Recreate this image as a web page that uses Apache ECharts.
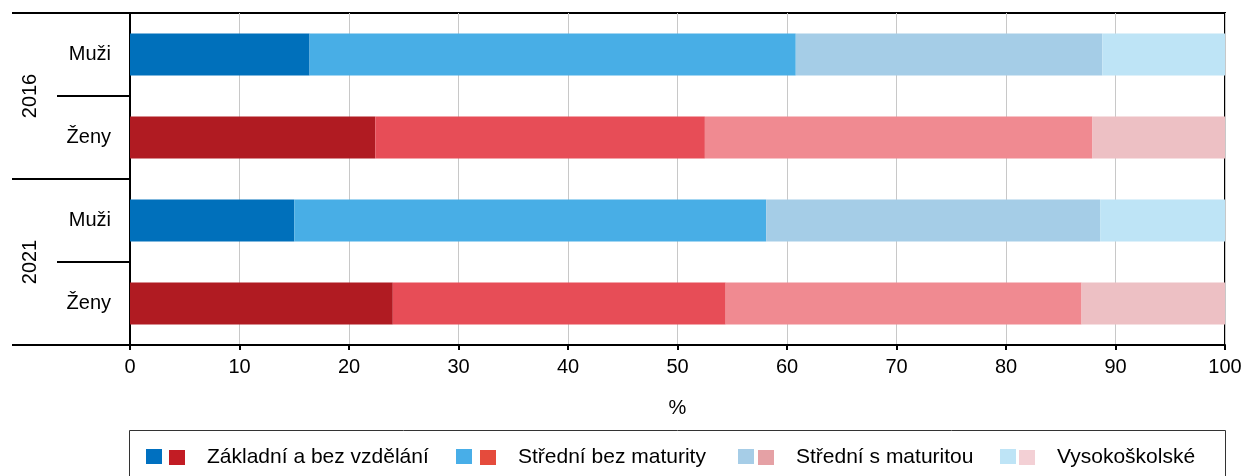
<!DOCTYPE html>
<html>
<head>
<meta charset="utf-8">
<script src="https://cdn.jsdelivr.net/npm/echarts@6/dist/echarts.min.js"></script>
<style>
  html, body { margin: 0; padding: 0; background: #fff; }
  #chart { width: 1247px; height: 476px; }
</style>
</head>
<body>
<div id="chart"></div>
<script>
// rows (top to bottom): year|sex
const rows = ['2016|Muži', '2016|Ženy', '2021|Muži', '2021|Ženy'];
const years = ['2016', '2021'];
const levels = ['Základní a bez vzdělání', 'Střední bez maturity', 'Střední s maturitou', 'Vysokoškolské'];

// shares in %, per education level, rows as above
const zakladni = [16.4, 22.4, 15.0, 24.0];
const stredniBez = [44.4, 30.1, 43.1, 30.4];
const stredniS = [28.0, 35.4, 30.5, 32.5];
const vysokoskolske = [11.2, 12.1, 11.4, 13.1];

const xTicks = [0, 10, 20, 30, 40, 50, 60, 70, 80, 90, 100];

const menColors = ['#0070BB', '#48AEE6', '#A5CDE7', '#BEE4F6'];
const womenColors = ['#B01B22', '#E74D57', '#F08A91', '#EDC0C4'];
const menLegend = ['#0070C0', '#48AEE8', '#A6CDE7', '#BEE4F6'];
const womenLegend = ['#C21C24', '#E54B3C', '#E5A1A5', '#F3D0D5'];

const font = 'Liberation Sans, Arial, sans-serif';
const values = [zakladni, stredniBez, stredniS, vysokoskolske];

let series = [];
levels.forEach((lvl, i) => {
    // muži
    series.push({
        name: 'm' + i,
        type: 'bar',
        stack: 'total',
        barWidth: 42,
        color: menColors[i],
        data: values[i].map((v, r) => r % 2 === 0 ? v : null)
    });
    // ženy
    series.push({
        name: lvl,
        type: 'bar',
        stack: 'total',
        barWidth: 42,
        color: womenColors[i],
        data: values[i].map((v, r) => r % 2 === 1 ? v : null)
    });
});

// legend: every swatch placed on its own (legend padding is 5)
const menLeft = [141, 451, 733, 995];
const womenLeft = [164, 475, 753, 1014];
let legends = [];
levels.forEach((lvl, i) => {
    legends.push({
        left: menLeft[i], top: 444,
        itemWidth: 16, itemHeight: 15,
        icon: 'rect', selectedMode: false,
        data: [{ name: 'm' + i, itemStyle: { color: menLegend[i] } }],
        formatter: () => ''
    });
    legends.push({
        left: womenLeft[i], top: 442,
        itemWidth: 16, itemHeight: 15,
        icon: 'rect', selectedMode: false,
        data: [{ name: lvl, itemStyle: { color: womenLegend[i] } }],
        textStyle: { fontFamily: font, fontSize: 21, color: '#000', padding: [0, 0, 0, 17] }
    });
});

const chart = echarts.init(document.getElementById('chart'));
chart.setOption({
    animation: false,
    grid: {
        left: 130, right: 22, top: 13, bottom: 131,
        show: true, borderColor: '#000', borderWidth: 2,
        containLabel: false
    },
    xAxis: {
        type: 'value',
        min: xTicks[0], max: xTicks[xTicks.length - 1], interval: 10,
        name: '%', nameLocation: 'middle', nameGap: 53,
        nameTextStyle: { fontFamily: font, fontSize: 20, color: '#000' },
        axisLine: { show: true, lineStyle: { color: '#000', width: 2 } },
        axisTick: { show: true, length: 5, lineStyle: { color: '#000', width: 2 } },
        axisLabel: { fontFamily: font, fontSize: 20, color: '#000', margin: 12 },
        splitLine: { show: true, lineStyle: { color: '#c8c8c8', width: 1 } }
    },
    yAxis: [{
        type: 'category',
        data: rows,
        inverse: true,
        axisLine: { show: true, lineStyle: { color: '#000', width: 2 } },
        axisTick: { show: true, length: 73, lineStyle: { color: '#000', width: 2 } },
        axisLabel: {
            fontFamily: font, fontSize: 20, color: '#000', margin: 19,
            formatter: v => v.split('|')[1]
        }
    }, {
        type: 'category',
        data: years,
        inverse: true,
        position: 'left',
        axisLine: { show: true, lineStyle: { color: '#000', width: 2 } },
        axisTick: { show: true, length: 118, lineStyle: { color: '#000', width: 2 } },
        axisLabel: { fontFamily: font, fontSize: 20, color: '#000', rotate: 90, margin: 90 }
    }],
    legend: legends,
    graphic: [{
        type: 'rect',
        shape: { x: 129.5, y: 430.5, width: 1096, height: 60 },
        style: { fill: 'none', stroke: '#333', lineWidth: 1 },
        z: -1
    }],
    series: series
});
</script>
</body>
</html>
